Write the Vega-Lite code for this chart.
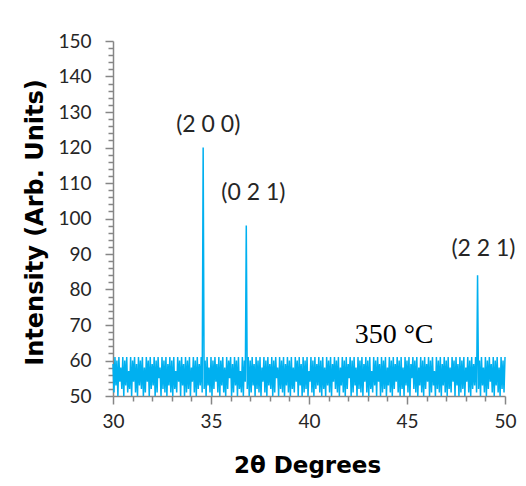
{
  "$schema": "https://vega.github.io/schema/vega-lite/v6.json",
  "width": 392,
  "height": 355,
  "autosize": {"type": "none"},
  "padding": {"left": 113, "top": 41, "right": 21, "bottom": 90},
  "background": "white",
  "config": {
    "view": {"stroke": null},
    "axis": {
      "domainColor": "#868686",
      "domainWidth": 1.5,
      "tickColor": "#868686",
      "tickWidth": 1.5,
      "grid": false,
      "labelFont": "Lato",
      "labelFontSize": 19,
      "labelColor": "#262626",
      "titleFont": "DejaVu Sans",
      "titleFontWeight": "bold",
      "titleColor": "#000000",
      "titleFontSize": 23
    }
  },
  "datasets": {
    "xrd": [
      {"t":30,"i":59},{"t":30.05,"i":51},{"t":30.1,"i":61},{"t":30.15,"i":53},{"t":30.2,"i":60},{"t":30.25,"i":50},{"t":30.3,"i":61},{"t":30.35,"i":54},{"t":30.4,"i":58},{"t":30.45,"i":52},
      {"t":30.5,"i":61},{"t":30.55,"i":50},{"t":30.6,"i":60},{"t":30.65,"i":53},{"t":30.7,"i":61},{"t":30.75,"i":51},{"t":30.8,"i":57},{"t":30.85,"i":52},{"t":30.9,"i":61},{"t":30.95,"i":50},
      {"t":31,"i":60},{"t":31.05,"i":54},{"t":31.1,"i":61},{"t":31.15,"i":51},{"t":31.2,"i":59},{"t":31.25,"i":50},{"t":31.3,"i":61},{"t":31.35,"i":53},{"t":31.4,"i":60},{"t":31.45,"i":52},
      {"t":31.5,"i":61},{"t":31.55,"i":50},{"t":31.6,"i":58},{"t":31.65,"i":51},{"t":31.7,"i":61},{"t":31.75,"i":54},{"t":31.8,"i":60},{"t":31.85,"i":50},{"t":31.9,"i":61},{"t":31.95,"i":52},
      {"t":32,"i":59},{"t":32.05,"i":53},{"t":32.1,"i":61},{"t":32.15,"i":50},{"t":32.2,"i":60},{"t":32.25,"i":51},{"t":32.3,"i":61},{"t":32.35,"i":55},{"t":32.4,"i":58},{"t":32.45,"i":50},
      {"t":32.5,"i":61},{"t":32.55,"i":52},{"t":32.6,"i":60},{"t":32.65,"i":51},{"t":32.7,"i":61},{"t":32.75,"i":50},{"t":32.8,"i":59},{"t":32.85,"i":53},{"t":32.9,"i":61},{"t":32.95,"i":51},
      {"t":33,"i":60},{"t":33.05,"i":50},{"t":33.1,"i":61},{"t":33.15,"i":52},{"t":33.2,"i":57},{"t":33.25,"i":51},{"t":33.3,"i":61},{"t":33.35,"i":54},{"t":33.4,"i":60},{"t":33.45,"i":50},
      {"t":33.5,"i":61},{"t":33.55,"i":53},{"t":33.6,"i":59},{"t":33.65,"i":50},{"t":33.7,"i":61},{"t":33.75,"i":51},{"t":33.8,"i":60},{"t":33.85,"i":52},{"t":33.9,"i":61},{"t":33.95,"i":50},
      {"t":34,"i":58},{"t":34.05,"i":54},{"t":34.1,"i":61},{"t":34.15,"i":51},{"t":34.2,"i":60},{"t":34.25,"i":50},{"t":34.3,"i":61},{"t":34.35,"i":52},{"t":34.4,"i":59},{"t":34.45,"i":53},
      {"t":34.5,"i":61},{"t":34.55,"i":51},{"t":34.6,"i":120},{"t":34.65,"i":52},{"t":34.7,"i":60},{"t":34.75,"i":50},{"t":34.8,"i":61},{"t":34.85,"i":53},{"t":34.9,"i":58},{"t":34.95,"i":51},
      {"t":35,"i":61},{"t":35.05,"i":50},{"t":35.1,"i":60},{"t":35.15,"i":52},{"t":35.2,"i":61},{"t":35.25,"i":54},{"t":35.3,"i":59},{"t":35.35,"i":51},{"t":35.4,"i":61},{"t":35.45,"i":50},
      {"t":35.5,"i":60},{"t":35.55,"i":53},{"t":35.6,"i":61},{"t":35.65,"i":51},{"t":35.7,"i":58},{"t":35.75,"i":50},{"t":35.8,"i":61},{"t":35.85,"i":52},{"t":35.9,"i":60},{"t":35.95,"i":55},
      {"t":36,"i":61},{"t":36.05,"i":50},{"t":36.1,"i":59},{"t":36.15,"i":51},{"t":36.2,"i":61},{"t":36.25,"i":53},{"t":36.3,"i":60},{"t":36.35,"i":50},{"t":36.4,"i":61},{"t":36.45,"i":52},
      {"t":36.5,"i":57},{"t":36.55,"i":51},{"t":36.6,"i":61},{"t":36.65,"i":50},{"t":36.7,"i":60},{"t":36.75,"i":54},{"t":36.8,"i":98},{"t":36.85,"i":52},{"t":36.9,"i":61},{"t":36.95,"i":50},
      {"t":37,"i":60},{"t":37.05,"i":51},{"t":37.1,"i":61},{"t":37.15,"i":53},{"t":37.2,"i":59},{"t":37.25,"i":50},{"t":37.3,"i":61},{"t":37.35,"i":52},{"t":37.4,"i":60},{"t":37.45,"i":51},
      {"t":37.5,"i":61},{"t":37.55,"i":50},{"t":37.6,"i":58},{"t":37.65,"i":54},{"t":37.7,"i":61},{"t":37.75,"i":51},{"t":37.8,"i":60},{"t":37.85,"i":50},{"t":37.9,"i":61},{"t":37.95,"i":53},
      {"t":38,"i":59},{"t":38.05,"i":52},{"t":38.1,"i":61},{"t":38.15,"i":50},{"t":38.2,"i":60},{"t":38.25,"i":51},{"t":38.3,"i":61},{"t":38.35,"i":55},{"t":38.4,"i":58},{"t":38.45,"i":50},
      {"t":38.5,"i":61},{"t":38.55,"i":52},{"t":38.6,"i":60},{"t":38.65,"i":51},{"t":38.7,"i":61},{"t":38.75,"i":50},{"t":38.8,"i":59},{"t":38.85,"i":53},{"t":38.9,"i":61},{"t":38.95,"i":51},
      {"t":39,"i":60},{"t":39.05,"i":50},{"t":39.1,"i":61},{"t":39.15,"i":52},{"t":39.2,"i":58},{"t":39.25,"i":51},{"t":39.3,"i":61},{"t":39.35,"i":54},{"t":39.4,"i":60},{"t":39.45,"i":50},
      {"t":39.5,"i":61},{"t":39.55,"i":53},{"t":39.6,"i":59},{"t":39.65,"i":50},{"t":39.7,"i":61},{"t":39.75,"i":51},{"t":39.8,"i":60},{"t":39.85,"i":52},{"t":39.9,"i":61},{"t":39.95,"i":50},
      {"t":40,"i":57},{"t":40.05,"i":54},{"t":40.1,"i":61},{"t":40.15,"i":51},{"t":40.2,"i":60},{"t":40.25,"i":50},{"t":40.3,"i":61},{"t":40.35,"i":52},{"t":40.4,"i":59},{"t":40.45,"i":53},
      {"t":40.5,"i":61},{"t":40.55,"i":51},{"t":40.6,"i":60},{"t":40.65,"i":50},{"t":40.7,"i":61},{"t":40.75,"i":52},{"t":40.8,"i":58},{"t":40.85,"i":50},{"t":40.9,"i":61},{"t":40.95,"i":53},
      {"t":41,"i":60},{"t":41.05,"i":51},{"t":41.1,"i":61},{"t":41.15,"i":50},{"t":41.2,"i":59},{"t":41.25,"i":54},{"t":41.3,"i":61},{"t":41.35,"i":52},{"t":41.4,"i":60},{"t":41.45,"i":51},
      {"t":41.5,"i":61},{"t":41.55,"i":50},{"t":41.6,"i":58},{"t":41.65,"i":53},{"t":41.7,"i":61},{"t":41.75,"i":51},{"t":41.8,"i":60},{"t":41.85,"i":50},{"t":41.9,"i":61},{"t":41.95,"i":52},
      {"t":42,"i":59},{"t":42.05,"i":55},{"t":42.1,"i":61},{"t":42.15,"i":50},{"t":42.2,"i":60},{"t":42.25,"i":51},{"t":42.3,"i":61},{"t":42.35,"i":53},{"t":42.4,"i":58},{"t":42.45,"i":50},
      {"t":42.5,"i":61},{"t":42.55,"i":52},{"t":42.6,"i":60},{"t":42.65,"i":51},{"t":42.7,"i":61},{"t":42.75,"i":50},{"t":42.8,"i":59},{"t":42.85,"i":54},{"t":42.9,"i":61},{"t":42.95,"i":51},
      {"t":43,"i":60},{"t":43.05,"i":50},{"t":43.1,"i":61},{"t":43.15,"i":52},{"t":43.2,"i":57},{"t":43.25,"i":51},{"t":43.3,"i":61},{"t":43.35,"i":53},{"t":43.4,"i":60},{"t":43.45,"i":50},
      {"t":43.5,"i":61},{"t":43.55,"i":54},{"t":43.6,"i":59},{"t":43.65,"i":50},{"t":43.7,"i":61},{"t":43.75,"i":51},{"t":43.8,"i":60},{"t":43.85,"i":52},{"t":43.9,"i":61},{"t":43.95,"i":50},
      {"t":44,"i":58},{"t":44.05,"i":53},{"t":44.1,"i":61},{"t":44.15,"i":51},{"t":44.2,"i":60},{"t":44.25,"i":50},{"t":44.3,"i":61},{"t":44.35,"i":52},{"t":44.4,"i":59},{"t":44.45,"i":54},
      {"t":44.5,"i":61},{"t":44.55,"i":51},{"t":44.6,"i":60},{"t":44.65,"i":50},{"t":44.7,"i":61},{"t":44.75,"i":52},{"t":44.8,"i":58},{"t":44.85,"i":50},{"t":44.9,"i":61},{"t":44.95,"i":53},
      {"t":45,"i":60},{"t":45.05,"i":51},{"t":45.1,"i":61},{"t":45.15,"i":50},{"t":45.2,"i":59},{"t":45.25,"i":55},{"t":45.3,"i":61},{"t":45.35,"i":52},{"t":45.4,"i":60},{"t":45.45,"i":51},
      {"t":45.5,"i":61},{"t":45.55,"i":50},{"t":45.6,"i":58},{"t":45.65,"i":53},{"t":45.7,"i":61},{"t":45.75,"i":51},{"t":45.8,"i":60},{"t":45.85,"i":50},{"t":45.9,"i":61},{"t":45.95,"i":52},
      {"t":46,"i":59},{"t":46.05,"i":54},{"t":46.1,"i":61},{"t":46.15,"i":50},{"t":46.2,"i":60},{"t":46.25,"i":51},{"t":46.3,"i":61},{"t":46.35,"i":53},{"t":46.4,"i":57},{"t":46.45,"i":50},
      {"t":46.5,"i":61},{"t":46.55,"i":52},{"t":46.6,"i":60},{"t":46.65,"i":51},{"t":46.7,"i":61},{"t":46.75,"i":50},{"t":46.8,"i":59},{"t":46.85,"i":53},{"t":46.9,"i":61},{"t":46.95,"i":51},
      {"t":47,"i":60},{"t":47.05,"i":50},{"t":47.1,"i":61},{"t":47.15,"i":52},{"t":47.2,"i":58},{"t":47.25,"i":51},{"t":47.3,"i":61},{"t":47.35,"i":54},{"t":47.4,"i":60},{"t":47.45,"i":50},
      {"t":47.5,"i":61},{"t":47.55,"i":53},{"t":47.6,"i":59},{"t":47.65,"i":50},{"t":47.7,"i":61},{"t":47.75,"i":51},{"t":47.8,"i":60},{"t":47.85,"i":52},{"t":47.9,"i":61},{"t":47.95,"i":50},
      {"t":48,"i":58},{"t":48.05,"i":54},{"t":48.1,"i":61},{"t":48.15,"i":51},{"t":48.2,"i":60},{"t":48.25,"i":50},{"t":48.3,"i":61},{"t":48.35,"i":52},{"t":48.4,"i":59},{"t":48.45,"i":53},
      {"t":48.5,"i":61},{"t":48.55,"i":51},{"t":48.6,"i":84},{"t":48.65,"i":52},{"t":48.7,"i":60},{"t":48.75,"i":50},{"t":48.8,"i":61},{"t":48.85,"i":53},{"t":48.9,"i":58},{"t":48.95,"i":51},
      {"t":49,"i":61},{"t":49.05,"i":50},{"t":49.1,"i":60},{"t":49.15,"i":52},{"t":49.2,"i":61},{"t":49.25,"i":54},{"t":49.3,"i":59},{"t":49.35,"i":51},{"t":49.4,"i":61},{"t":49.45,"i":50},
      {"t":49.5,"i":60},{"t":49.55,"i":53},{"t":49.6,"i":61},{"t":49.65,"i":51},{"t":49.7,"i":58},{"t":49.75,"i":50},{"t":49.8,"i":61},{"t":49.85,"i":52},{"t":49.9,"i":60},{"t":49.95,"i":51},
      {"t":50,"i":61}
    ],
    "peaks": [
      {"t":34.86,"i":126.3,"hkl":"(2 0 0)"},
      {"t":37.16,"i":107.2,"hkl":"(0 2 1)"},
      {"t":48.9,"i":91.4,"hkl":"(2 2 1)"}
    ],
    "note": [
      {"t":44.34,"i":67.2,"txt":"350 °C"}
    ]
  },
  "encoding": {
    "x": {
      "field": "t", "type": "quantitative",
      "scale": {"domain": [30, 50], "nice": false, "zero": false},
      "axis": {
        "values": [30,31,32,33,34,35,36,37,38,39,40,41,42,43,44,45,46,47,48,49,50],
        "labelExpr": "datum.value % 5 === 0 ? datum.label : ''",
        "labelOverlap": false,
        "labelFlush": false,
        "labelPadding": 8,
        "tickSize": {"condition": {"test": "datum.value % 5 === 0", "value": 8}, "value": 5},
        "title": "2θ Degrees",
        "titleX": 194,
        "titleY": 69,
        "titleBaseline": "middle",
        "titleAlign": "center"
      }
    },
    "y": {
      "field": "i", "type": "quantitative",
      "scale": {"domain": [50, 150], "nice": false, "zero": false},
      "axis": {
        "values": [50,52,54,56,58,60,62,64,66,68,70,72,74,76,78,80,82,84,86,88,90,92,94,96,98,100,102,104,106,108,110,112,114,116,118,120,122,124,126,128,130,132,134,136,138,140,142,144,146,148,150],
        "labelExpr": "datum.value % 10 === 0 ? datum.label : ''",
        "labelOverlap": false,
        "labelFlush": false,
        "labelPadding": 14,
        "tickSize": {"condition": {"test": "datum.value % 10 === 0", "value": 8}, "value": 5},
        "title": "Intensity (Arb. Units)",
        "titleX": -78,
        "titleY": 181,
        "titleAngle": -90,
        "titleBaseline": "middle",
        "titleAlign": "center",
        "titleFontSize": 24
      }
    }
  },
  "layer": [
    {
      "data": {"name": "xrd"},
      "mark": {"type": "line", "color": "#00B0F0", "strokeWidth": 1.5, "interpolate": "linear"}
    },
    {
      "data": {"name": "peaks"},
      "mark": {"type": "text", "font": "Lato", "fontSize": 23, "color": "#262626", "align": "center", "baseline": "middle"},
      "encoding": {"text": {"field": "hkl"}}
    },
    {
      "data": {"name": "note"},
      "mark": {"type": "text", "font": "Liberation Serif", "fontSize": 28, "color": "#000000", "align": "center", "baseline": "middle"},
      "encoding": {"text": {"field": "txt"}}
    }
  ]
}
